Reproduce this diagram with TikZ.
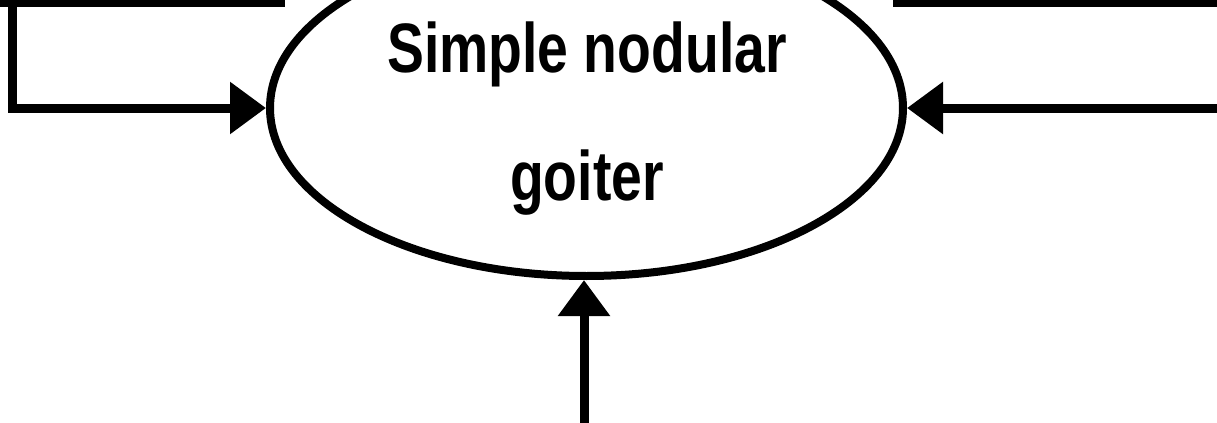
\documentclass[tikz,border=0pt]{standalone}
\usepackage{fontspec}
\setmainfont{Liberation Sans}
\newfontfamily\narrowbold[FakeStretch=0.79]{Liberation Sans Bold}
\usetikzlibrary{shapes.geometric,arrows.meta}
\begin{document}
\begin{tikzpicture}[x=0.5pt,y=-0.5pt,
  line/.style={line width=4.5pt},
  arrowline/.style={line width=4.5pt,-{Triangle[length=18pt,width=25pt]}},
  oval/.style={ellipse,draw,line width=4pt,minimum width=316.5pt,minimum height=168pt,inner sep=0pt},
  label/.style={font=\narrowbold\fontsize{35}{40}\selectfont,anchor=base,inner sep=0pt}]
\useasboundingbox (0,0) rectangle (1217,423);
\clip (0,0) rectangle (1217,423);
\fill[white] (0,0) rectangle (1217,423);
\node[oval] (goiter) at (586.5,108) {};
\node[label] (t1) at (587,72) {Simple nodular};
\node[label] (t2) at (587,200) {goiter};
\coordinate (tlA) at (-10,2);
\coordinate (tlB) at (285,2);
\coordinate (trA) at (893,2);
\coordinate (trB) at (1230,2);
\coordinate (lsrc) at (12,-10);
\coordinate (rsrc) at (1230,108);
\coordinate (bsrc) at (584,440);
\draw[line] (tlA) -- (tlB);
\draw[line] (trA) -- (trB);
\draw[arrowline] (lsrc) |- (goiter.west);
\draw[arrowline] (rsrc) -- (goiter.east);
\draw[arrowline] (bsrc) -- (bsrc |- goiter.south);
\end{tikzpicture}
\end{document}
